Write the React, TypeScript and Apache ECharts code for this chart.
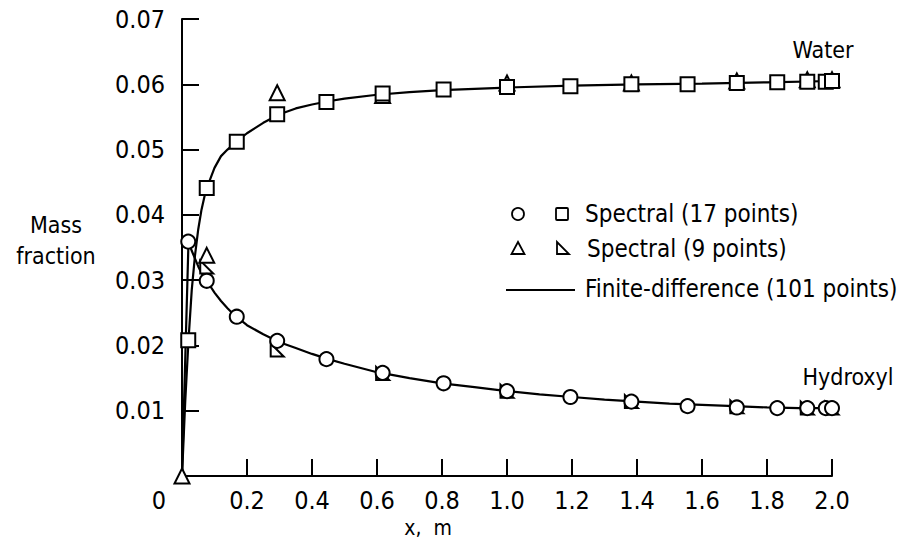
import React, { useEffect, useRef } from 'react';
import * as echarts from 'echarts';

const FONT = "'DejaVu Sans Condensed', 'Liberation Sans Narrow', 'DejaVu Sans', sans-serif";

const xTickLabels = ['0', '0.2', '0.4', '0.6', '0.8', '1.0', '1.2', '1.4', '1.6', '1.8', '2.0'];
const yTickLabels = ['', '0.01', '0.02', '0.03', '0.04', '0.05', '0.06', '0.07'];

// Spectral, 17 collocation points (x = 0 point hidden under the 9-point marker)
const x17 = [0.0192, 0.0761, 0.1685, 0.2929, 0.4444, 0.6173, 0.8049, 1.0, 1.1951, 1.3827, 1.5556, 1.7071, 1.8315, 1.9239, 1.9808, 2.0];
const water17 = [0.0208, 0.0441, 0.0512, 0.0554, 0.0573, 0.0586, 0.0592, 0.0596, 0.0597, 0.0600, 0.0600, 0.0602, 0.0603, 0.0604, 0.0604, 0.0605];
const hydroxyl17 = [0.0359, 0.0299, 0.0244, 0.0207, 0.0179, 0.0158, 0.0142, 0.0130, 0.0121, 0.0114, 0.0107, 0.0105, 0.0104, 0.0104, 0.0104, 0.0104];

// Spectral, 9 collocation points
const x9 = [0, 0.0761, 0.2929, 0.6173, 1.0, 1.3827, 1.7071, 1.9239, 2.0];
const water9 = [0, 0.0338, 0.0587, 0.0583, 0.0602, 0.0602, 0.0605, 0.0607, 0.0607];
const hydroxyl9 = [null, 0.0320, 0.0193, 0.0157, 0.0130, 0.0114, 0.0106, 0.0104, 0.0104];

// Finite-difference solution (101 points)
const xWaterFD = [0, 0.01, 0.02, 0.03, 0.04, 0.05, 0.06, 0.07, 0.08, 0.10, 0.12, 0.14, 0.16, 0.18, 0.20, 0.25, 0.30, 0.35, 0.40, 0.45, 0.50, 0.60, 0.70, 0.80, 0.90, 1.00, 1.20, 1.40, 1.60, 1.80, 2.00];
const waterFD = [0, 0.0115, 0.0208, 0.0285, 0.0338, 0.0378, 0.0408, 0.0430, 0.0446, 0.0472, 0.0490, 0.0500, 0.0509, 0.0517, 0.0525, 0.0541, 0.0554, 0.0563, 0.0569, 0.0574, 0.0578, 0.0584, 0.0588, 0.0591, 0.0593, 0.0595, 0.0598, 0.0600, 0.0601, 0.0603, 0.0605];
const xHydroxylFD = [0, 0.02, 0.03, 0.04, 0.05, 0.06, 0.07, 0.08, 0.10, 0.12, 0.14, 0.16, 0.18, 0.20, 0.25, 0.30, 0.35, 0.40, 0.45, 0.50, 0.60, 0.70, 0.80, 0.90, 1.00, 1.10, 1.20, 1.30, 1.40, 1.50, 1.60, 1.70, 1.80, 1.90, 2.00];
const hydroxylFD = [0, 0.0359, 0.0345, 0.0333, 0.0321, 0.0311, 0.0303, 0.0296, 0.0281, 0.0268, 0.0257, 0.0247, 0.0239, 0.0231, 0.0217, 0.0205, 0.0196, 0.0187, 0.0179, 0.0172, 0.0159, 0.0150, 0.0142, 0.0136, 0.0130, 0.0125, 0.0121, 0.0117, 0.0114, 0.0111, 0.0109, 0.0107, 0.0105, 0.0104, 0.0104];

const RIGHT_TRI = 'path://M0,0 L0,10 L10,10 Z';

const pairs = (xs: number[], ys: (number | null)[]) =>
  xs.map((x, i) => [x, ys[i]]).filter((p) => p[1] !== null);

export default function App() {
  const ref = useRef<HTMLDivElement>(null);
  useEffect(() => {
    if (!ref.current) return;
    const chart = echarts.init(ref.current, null, { renderer: 'svg' });
    const markerStyle = { color: '#fff', borderColor: '#000', borderWidth: 2, opacity: 1 };
    const lineSeries = (name: string, xs: number[], ys: number[]) => ({
      name,
      type: 'line',
      data: pairs(xs, ys),
      showSymbol: false,
      symbol: 'none',
      smooth: false,
      lineStyle: { color: '#000', width: 2.2 },
      z: 2,
    });
    const scatter = (name: string, xs: number[], ys: (number | null)[], symbol: string, size: number) => ({
      name,
      type: 'scatter',
      data: pairs(xs, ys),
      symbol,
      symbolSize: size,
      itemStyle: markerStyle,
      z: 3,
    });
    const txt = (size: number) => `${size}px ${FONT}`;
    chart.setOption({
      animation: false,
      grid: { left: 182, right: 80, top: 19, bottom: 72, containLabel: false },
      xAxis: {
        type: 'value',
        min: 0,
        max: 2,
        interval: 0.2,
        axisLine: { show: true, lineStyle: { color: '#000', width: 2 } },
        axisTick: { show: true, inside: true, length: 17, lineStyle: { color: '#000', width: 2 } },
        splitLine: { show: false },
        axisLabel: {
          color: '#000',
          fontSize: 25,
          lineHeight: 25,
          fontFamily: FONT,
          margin: 12,
          formatter: (v: number, i: number) => (i === 0 ? '{o|' + xTickLabels[0] + '}' : xTickLabels[i]),
          rich: { o: { fontSize: 25, lineHeight: 25, fontFamily: FONT, color: '#000', padding: [0, 46, 0, 0] } },
        },
      },
      yAxis: {
        type: 'value',
        min: 0,
        max: 0.07,
        interval: 0.01,
        axisLine: { show: true, lineStyle: { color: '#000', width: 2 } },
        axisTick: { show: true, inside: true, length: 17, lineStyle: { color: '#000', width: 2 } },
        splitLine: { show: false },
        axisLabel: {
          color: '#000',
          fontSize: 25,
          fontFamily: FONT,
          margin: 17,
          formatter: (v: number, i: number) => yTickLabels[i] ?? '',
        },
      },
      graphic: [
        { type: 'text', x: 56, y: 225, style: { text: 'Mass', fill: '#000', font: txt(23), textAlign: 'center', textVerticalAlign: 'middle' } },
        { type: 'text', x: 56, y: 256, style: { text: 'fraction', fill: '#000', font: txt(23), textAlign: 'center', textVerticalAlign: 'middle' } },
        { type: 'text', x: 428, y: 528, style: { text: 'x,  m', fill: '#000', font: txt(21), textAlign: 'center', textVerticalAlign: 'middle' } },
        { type: 'text', x: 823, y: 50, style: { text: 'Water', fill: '#000', font: txt(23), textAlign: 'center', textVerticalAlign: 'middle' } },
        { type: 'text', x: 848, y: 377, style: { text: 'Hydroxyl', fill: '#000', font: txt(23), textAlign: 'center', textVerticalAlign: 'middle' } },
        // legend row 1
        { type: 'circle', shape: { cx: 518, cy: 214, r: 6 }, style: { fill: '#fff', stroke: '#000', lineWidth: 1.8 } },
        { type: 'rect', shape: { x: 556, y: 208, width: 12, height: 12, r: 1 }, style: { fill: '#fff', stroke: '#000', lineWidth: 1.8 } },
        { type: 'text', x: 585, y: 214, style: { text: 'Spectral (17 points)', fill: '#000', font: txt(24), textAlign: 'left', textVerticalAlign: 'middle' } },
        // legend row 2
        { type: 'polygon', shape: { points: [[518, 242], [511.5, 254], [524.5, 254]] }, style: { fill: '#fff', stroke: '#000', lineWidth: 1.8 } },
        { type: 'polygon', shape: { points: [[557, 242], [557, 254], [569, 254]] }, style: { fill: '#fff', stroke: '#000', lineWidth: 1.8 } },
        { type: 'text', x: 587, y: 249, style: { text: 'Spectral (9 points)', fill: '#000', font: txt(24), textAlign: 'left', textVerticalAlign: 'middle' } },
        // legend row 3
        { type: 'line', shape: { x1: 506, y1: 290, x2: 575, y2: 290 }, style: { stroke: '#000', lineWidth: 2 } },
        { type: 'text', x: 585, y: 289, style: { text: 'Finite-difference (101 points)', fill: '#000', font: txt(24), textAlign: 'left', textVerticalAlign: 'middle' } },
      ],
      series: [
        lineSeries('Water, finite-difference (101 points)', xWaterFD, waterFD),
        lineSeries('Hydroxyl, finite-difference (101 points)', xHydroxylFD, hydroxylFD),
        scatter('Hydroxyl, spectral (9 points)', x9, hydroxyl9, RIGHT_TRI, 13),
        scatter('Water, spectral (9 points)', x9, water9, 'triangle', 15),
        scatter('Hydroxyl, spectral (17 points)', x17, hydroxyl17, 'circle', 14),
        scatter('Water, spectral (17 points)', x17, water17, 'rect', 14),
      ],
    });
    return () => chart.dispose();
  }, []);
  return <div ref={ref} style={{ position: 'absolute', left: 0, top: 0, width: 912, height: 548 }} />;
}
